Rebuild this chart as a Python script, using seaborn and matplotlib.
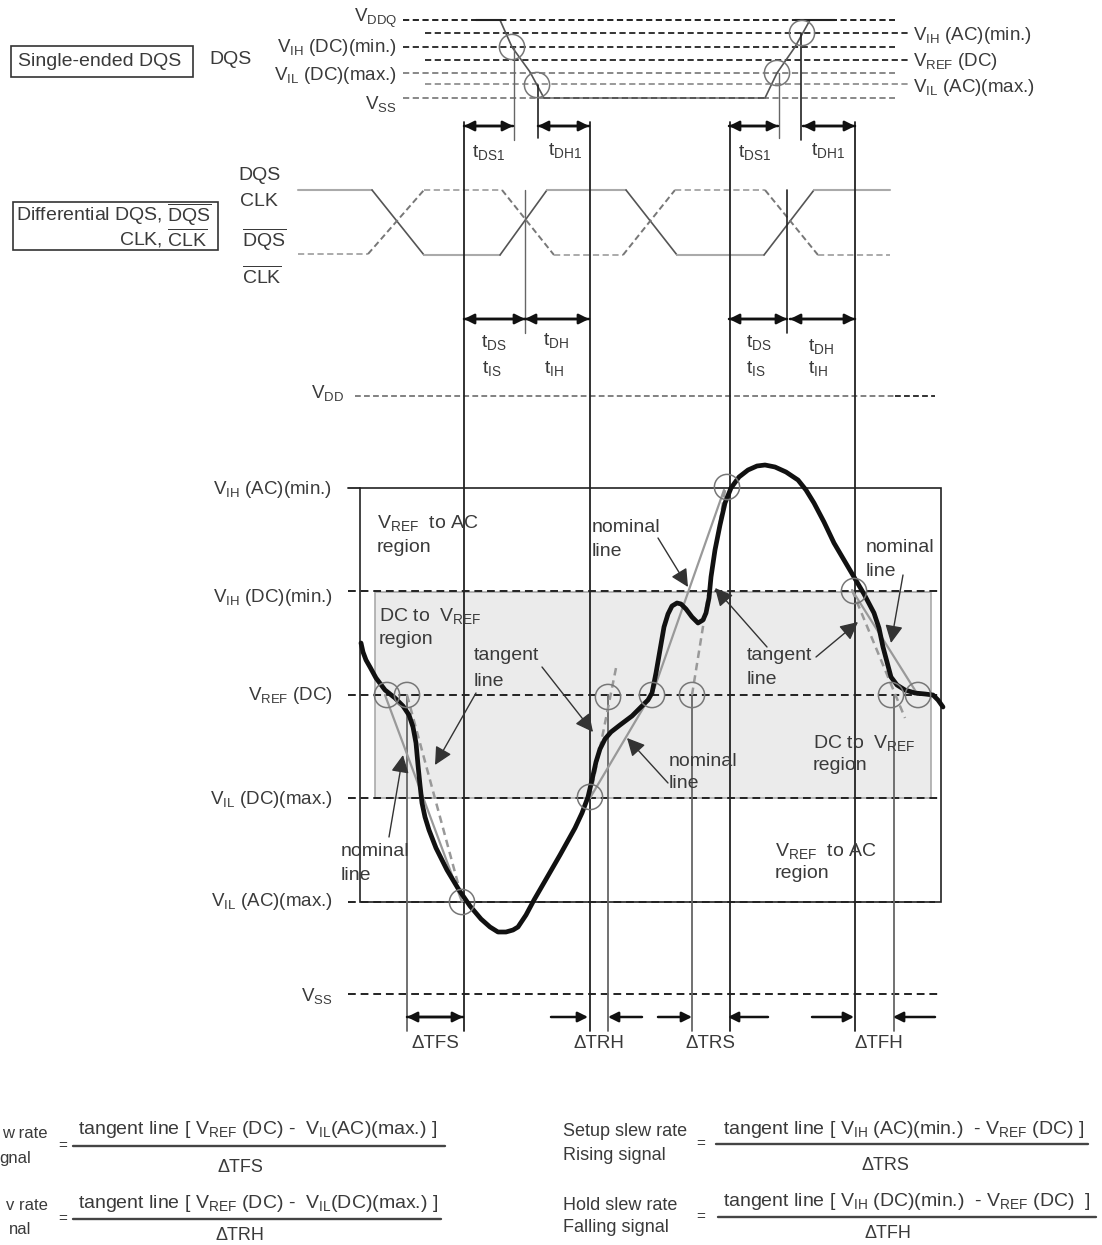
import matplotlib
matplotlib.use('Agg')
import matplotlib.pyplot as plt
from matplotlib.patches import Rectangle
import seaborn as sns

# Waveform and diagram values (pixel units)
wave_x = [361, 363, 366, 370, 376, 385, 395, 403, 409, 413, 416, 418, 420, 422, 425, 429, 436, 447, 459, 470,
          481, 490, 498, 506, 513, 518, 526, 534, 545, 560, 575, 582, 588, 592, 596, 600, 605, 611, 620, 632, 642,
          648, 652, 656, 660, 664, 668, 672, 677, 681, 686, 692, 698, 703, 706, 709, 711, 715, 720, 725, 731,
          739, 748, 757, 765, 775, 786, 798, 806, 814, 824, 834, 844, 854, 864, 874, 879, 883, 887, 891, 897,
          905, 915, 925, 933, 938, 943]
wave_y = [643, 652, 660, 667, 678, 690, 698, 706, 715, 727, 743, 765, 785, 803, 817, 830, 848, 870, 890, 906,
          919, 927, 932, 932, 930, 927, 915, 900, 881, 855, 828, 813, 797, 780, 762, 749, 739, 732, 725, 716, 706,
          700, 693, 673, 650, 627, 614, 606, 603, 604, 609, 617, 623, 620, 613, 598, 577, 550, 525, 503, 488,
          477, 470, 466, 465, 467, 472, 480, 490, 503, 522, 543, 560, 577, 594, 613, 628, 647, 662, 677, 685,
          690, 693, 694, 695, 700, 707]

top_levels = [20, 33, 47, 60, 73, 84, 98]
top_starts = [403, 425, 403, 425, 403, 425, 403]
top_ends = [895, 908, 895, 908, 895, 908, 895]
top_colors = ['#222222', '#333333', '#333333', '#333333', '#888888', '#999999', '#888888']

lower_levels = [591, 695, 798, 902, 994]
lower_starts = [348, 348, 348, 348, 348]
lower_ends = [938, 938, 938, 935, 938]

diff_solid_x = [298, 372, 424, 500, 547, 626, 677, 764, 814, 890]
diff_solid_y = [190, 190, 255, 255, 190, 190, 255, 255, 190, 190]
diff_dash_x = [298, 368, 424, 502, 554, 623, 675, 765, 818, 890]
diff_dash_y = [254, 254, 190, 190, 255, 255, 190, 190, 255, 255]

main_verticals = [464, 590, 730, 855]
gray_verticals = [407, 608, 692, 894]

circles_x = [512, 537, 777, 802, 387, 407, 462, 608, 652, 692, 590, 727, 854, 891, 918]
circles_y = [47, 85, 73, 33, 695, 695, 902, 697, 695, 695, 797, 487, 591, 695, 695]

left_labels = ['V$_{DDQ}$', 'V$_{IH}$ (DC)(min.)', 'V$_{IL}$ (DC)(max.)', 'V$_{SS}$']
left_label_y = [18, 47, 75, 104]
right_labels = ['V$_{IH}$ (AC)(min.)', 'V$_{REF}$ (DC)', 'V$_{IL}$ (AC)(max.)']
right_label_y = [36, 61, 87]
level_labels = ['V$_{DD}$', 'V$_{IH}$ (AC)(min.)', 'V$_{IH}$ (DC)(min.)', 'V$_{REF}$ (DC)',
                'V$_{IL}$ (DC)(max.)', 'V$_{IL}$ (AC)(max.)', 'V$_{SS}$']
level_label_x = [344, 332, 333, 333, 333, 333, 333]
level_label_y = [393, 489, 597, 696, 800, 901, 996]

region_text = [('V$_{REF}$  to AC', 377, 523), ('region', 377, 547),
               ('DC to  V$_{REF}$', 379, 616), ('region', 379, 639),
               ('tangent', 474, 656), ('line', 474, 681),
               ('nominal', 341, 851), ('line', 341, 875),
               ('nominal', 592, 527), ('line', 592, 551),
               ('tangent', 747, 656), ('line', 747, 680),
               ('nominal', 866, 548), ('line', 866, 571),
               ('nominal', 669, 761), ('line', 669, 784),
               ('DC to  V$_{REF}$', 813, 743), ('region', 813, 766),
               ('V$_{REF}$  to AC', 775, 851), ('region', 775, 874)]

sns.set_theme(style='white')
plt.rcParams['font.family'] = ['Liberation Sans', 'DejaVu Sans']
plt.rcParams['mathtext.fontset'] = 'custom'
plt.rcParams['mathtext.rm'] = 'Liberation Sans'
plt.rcParams['mathtext.default'] = 'regular'

fig = plt.figure(figsize=(11.02, 12.45), dpi=100)
ax = fig.add_axes([0, 0, 1, 1])
ax.set_xlim(0, 1102)
ax.set_ylim(1245, 0)
ax.axis('off')

TXT = '#3a3a3a'
DASH = (0, (3.2, 1.8))


def line(xs, ys, color='#222222', lw=1.2, ls='-'):
    sns.lineplot(x=xs, y=ys, sort=False, estimator=None, errorbar=None, ax=ax,
                 color=color, linewidth=lw, linestyle=ls, legend=False)


def label(x, y, s, ha='left', size=14, color=TXT):
    ax.text(x, y, s, ha=ha, va='center', fontsize=size, color=color)


def arrow(x0, y0, x1, y1, color='#111111', lw=1.8, scale=15):
    ax.annotate('', xy=(x1, y1), xytext=(x0, y0),
                arrowprops=dict(arrowstyle='-|>', color=color, lw=lw, mutation_scale=scale,
                                shrinkA=0, shrinkB=0))


def both(x0, x1, y):
    arrow(x0, y, x1, y)
    arrow(x1, y, x0, y)


# gray band and the box
ax.add_patch(Rectangle((375, 592), 556, 206, facecolor='#ebebeb', edgecolor='#aaaaaa', lw=1.2, zorder=0))
ax.add_patch(Rectangle((360, 488), 581, 414, facecolor='none', edgecolor='#222222', lw=1.2, zorder=1))

# dashed levels
for y, a, b, c in zip(top_levels, top_starts, top_ends, top_colors):
    line([a, b], [y, y], color=c, lw=1.4, ls=DASH)
for y, a, b in zip(lower_levels, lower_starts, lower_ends):
    line([a, b], [y, y], color='#222222', lw=1.4, ls=(0, (4, 2.5)))
line([348, 360], [488, 488], lw=1.3)
line([355, 895], [396, 396], color='#777777', lw=1.3, ls=DASH)
line([895, 935], [396, 396], color='#222222', lw=1.3, ls=DASH)

# single ended edges
line([500, 512, 530, 544], [20, 47, 72, 98], color='#555555')
line([765, 777, 795, 810], [98, 73, 47, 20], color='#555555')
line([476, 502], [20, 20], lw=1.5)
line([795, 835], [20, 20], lw=1.5)
line([544, 765], [98, 98], color='#555555', lw=1.4, ls=DASH)
line([514, 514], [47, 140], color='#666666', lw=1)
line([538, 538], [85, 138])
line([779, 779], [73, 138], color='#666666', lw=1)
line([801, 801], [33, 140])

# differential clock, flat parts are paler than the edges
for i in range(len(diff_solid_x) - 1):
    flat = diff_solid_y[i] == diff_solid_y[i + 1]
    line(diff_solid_x[i:i + 2], diff_solid_y[i:i + 2], color='#aaaaaa' if flat else '#555555', lw=1.5 if flat else 1.2)
    flat = diff_dash_y[i] == diff_dash_y[i + 1]
    line(diff_dash_x[i:i + 2], diff_dash_y[i:i + 2], color='#aaaaaa' if flat else '#777777', lw=1.4, ls=DASH)
line([525, 525], [190, 333], color='#666666', lw=1)
line([787, 787], [190, 333])

# long verticals
for x in main_verticals:
    line([x, x], [122, 1031], lw=1.3)
for x in gray_verticals:
    line([x, x], [695, 1031], color='#666666', lw=1.3)

# nominal and tangent lines
line([385, 462], [695, 902], color='#999999', lw=1.6)
line([590, 645], [798, 705], color='#999999', lw=1.6)
line([652, 724], [695, 490], color='#999999', lw=1.6)
line([852, 918], [590, 695], color='#999999', lw=1.6)
tan_dash = (0, (3, 2))
line([407, 463], [695, 902], color='#999999', lw=1.8, ls=tan_dash)
line([590, 616], [798, 668], color='#999999', lw=1.8, ls=tan_dash)
line([692, 725], [695, 490], color='#999999', lw=1.8, ls=tan_dash)
line([852, 905], [590, 718], color='#999999', lw=1.8, ls=tan_dash)

# the waveform
line(wave_x, wave_y, color='#111111', lw=3.4)

# circles
sns.scatterplot(x=circles_x, y=circles_y, ax=ax, s=330, facecolors='none', edgecolor='#777777',
                linewidth=1.1, legend=False, zorder=5)

# timing arrows
both(464, 513, 126)
both(538, 589, 126)
both(729, 778, 126)
both(803, 855, 126)
both(464, 525, 319)
both(525, 589, 319)
both(729, 787, 319)
both(790, 855, 319)

both(407, 463, 1017)
arrow(551, 1017, 588, 1017)
arrow(642, 1017, 608, 1017)
arrow(658, 1017, 692, 1017)
arrow(768, 1017, 728, 1017)
arrow(812, 1017, 854, 1017)
arrow(935, 1017, 893, 1017)

# pointer arrows
for x0, y0, x1, y1 in [(389, 837, 403, 755), (476, 693, 435, 765), (542, 667, 593, 732),
                       (668, 783, 627, 738), (658, 538, 688, 587), (767, 647, 715, 588),
                       (816, 657, 858, 622), (903, 575, 891, 643)]:
    arrow(x0, y0, x1, y1, color='#333333', lw=1.0, scale=27)

# left boxes
ax.add_patch(Rectangle((11, 46), 182, 31, facecolor='white', edgecolor='#333333', lw=1.2))
ax.add_patch(Rectangle((13, 202), 205, 48, facecolor='white', edgecolor='#333333', lw=1.2))
label(18, 62, 'Single-ended DQS')
label(209, 60, 'DQS')
label(212, 215, r'Differential DQS, $\overline{DQS}$', ha='right')
label(208, 238, r'CLK, $\overline{CLK}$', ha='right')
label(238, 176, 'DQS')
label(240, 201, 'CLK')
label(242, 240, r'$\overline{DQS}$')
label(242, 276, r'$\overline{CLK}$')

for s, y in zip(left_labels, left_label_y):
    label(397, y, s, ha='right', size=13.5)
for s, y in zip(right_labels, right_label_y):
    label(913, y, s, size=13.5)
for s, x, y in zip(level_labels, level_label_x, level_label_y):
    label(x, y, s, ha='right', size=13.5)
for s, x, y in region_text:
    label(x, y, s)

# setup / hold labels
for x, y, s in [(472, 152, 't$_{DS1}$'), (548, 150, 't$_{DH1}$'), (738, 152, 't$_{DS1}$'), (811, 150, 't$_{DH1}$'),
                (481, 343, 't$_{DS}$'), (543, 341, 't$_{DH}$'), (746, 343, 't$_{DS}$'), (808, 346, 't$_{DH}$'),
                (482, 368, 't$_{IS}$'), (544, 368, 't$_{IH}$'), (746, 368, 't$_{IS}$'), (808, 368, 't$_{IH}$')]:
    label(x, y, s, size=14)

for x, s in [(435, 'ΔTFS'), (599, 'ΔTRH'), (711, 'ΔTRS'), (879, 'ΔTFH')]:
    label(x, 1043, s, ha='center', size=13.5)

# slew rate formulas
for x0, x1, y in [(73, 445, 1146), (73, 441, 1219), (716, 1088, 1144), (718, 1096, 1217)]:
    line([x0, x1], [y, y], color='#444444', lw=1.7)
for x, y in [(63, 1146), (63, 1219), (701, 1144), (701, 1217)]:
    label(x, y, '=', ha='center', size=11)

label(48, 1134, 'w rate', ha='right', size=12)
label(31, 1158, 'gnal', ha='right', size=12)
label(48, 1205, 'v rate', ha='right', size=12)
label(31, 1230, 'nal', ha='right', size=12)
label(563, 1132, 'Setup slew rate', size=13)
label(563, 1155, 'Rising signal', size=13)
label(563, 1205, 'Hold slew rate', size=13)
label(563, 1228, 'Falling signal', size=13)

label(78, 1130, 'tangent line [ V$_{REF}$ (DC) -  V$_{IL}$(AC)(max.) ]', size=14)
label(78, 1203, 'tangent line [ V$_{REF}$ (DC) -  V$_{IL}$(DC)(max.) ]', size=14)
label(723, 1130, 'tangent line [ V$_{IH}$ (AC)(min.)  - V$_{REF}$ (DC) ]', size=14)
label(723, 1202, 'tangent line [ V$_{IH}$ (DC)(min.)  - V$_{REF}$ (DC)  ]', size=14)
label(240, 1167, 'ΔTFS', ha='center', size=13)
label(240, 1235, 'ΔTRH', ha='center', size=13)
label(885, 1165, 'ΔTRS', ha='center', size=13)
label(888, 1234, 'ΔTFH', ha='center', size=13)

fig.savefig('out.png', dpi=100)
